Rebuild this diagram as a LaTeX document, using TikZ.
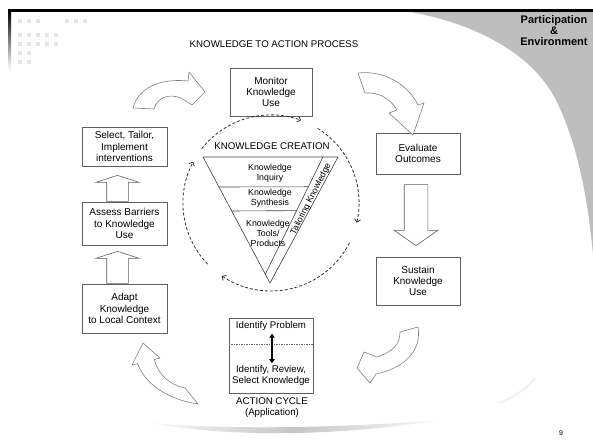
\documentclass[tikz,border=0pt]{standalone}
\usepackage{fontspec}
\setmainfont{Liberation Sans}
\usetikzlibrary{arrows.meta,shapes.arrows,calc}
\definecolor{cornergray}{RGB}{190,190,190}
\definecolor{boxline}{RGB}{95,95,95}
\definecolor{arrowline}{RGB}{128,128,128}
\definecolor{dotgray}{RGB}{228,228,228}

\begin{document}
\begin{tikzpicture}[x=1pt,y=1pt,
  stepbox/.style={draw=boxline, line width=0.7pt, fill=white, align=center,
    font=\fontsize{10}{11.2}\selectfont, inner sep=0pt},
  bend arrow/.style={draw=arrowline, line width=0.6pt, fill=white, line join=round},
  block arrow/.style={single arrow, draw=boxline, line width=0.6pt, fill=white,
    inner xsep=0pt, anchor=tail},
  cycle arc/.style={dash pattern=on 3pt off 2pt, line width=0.8pt, draw=black!80,
    -{Straight Barb[length=3pt,width=6pt]}},
  label text/.style={font=\fontsize{9.7}{11.2}\selectfont, align=center, inner sep=0pt},
  small text/.style={font=\fontsize{8.8}{10}\selectfont, align=center, inner sep=0pt},
  deco square/.style={fill=dotgray},
]
\useasboundingbox (0,0) rectangle (593,-446);
\fill[white] (0,0) rectangle (593,-446);

% slide frame: grey corner, top rule, fading left rule
\fill[cornergray] (405,-11) .. controls (470,-22) and (530,-50) .. (556,-100)
  .. controls (578,-145) and (588,-200) .. (593,-255) -- (593,-11) -- cycle;
\fill[black] (8,-9) rectangle (593,-12);
\shade[top color=black, bottom color=white] (8,-11) rectangle (11,-70);

% decorative squares
\foreach \x in {18,27,36,65,74,83} \fill[deco square] (\x,-19) rectangle ++(4,-4);
\foreach \y in {-33,-42} \foreach \x in {18,27,36,45,54} \fill[deco square] (\x,\y) rectangle ++(4,-4);
\foreach \y in {-51,-60} \foreach \x in {18,27} \fill[deco square] (\x,\y) rectangle ++(4,-4);

% headings
\node[label text] (title) at (274,-44) {KNOWLEDGE TO ACTION PROCESS};
\node[font=\fontsize{11}{11}\selectfont\bfseries, align=center, inner sep=0pt] (brand) at (554,-31)
  {Participation\\\&\\Environment};

% action cycle boxes
\node[stepbox, minimum width=82, minimum height=48] (monitor) at (271,-92) {Monitor\\Knowledge\\Use};
\node[stepbox, minimum width=84, minimum height=41] (evaluate) at (418,-153.5) {Evaluate\\Outcomes};
\node[stepbox, minimum width=84, minimum height=48] (sustain) at (418,-281) {Sustain\\Knowledge\\Use};
\node[stepbox, minimum width=85, minimum height=39] (select) at (124.5,-146.5) {Select, Tailor,\\Implement\\interventions};
\node[stepbox, minimum width=85, minimum height=43] (assess) at (124.5,-223.5) {Assess Barriers\\to Knowledge\\Use};
\node[stepbox, minimum width=85, minimum height=49] (adapt) at (124.5,-308.5) {Adapt\\Knowledge\\to Local Context};
\node[stepbox, minimum width=84, minimum height=75] (action) at (271,-355.5) {};

% inside the action box
\node[label text] (problem) at (271,-326) {Identify Problem};
\node[label text] (review) at (271,-375.5) {Identify, Review,\\Select Knowledge};
\draw[black!60, dash pattern=on 1.5pt off 1pt, line width=0.5pt]
  (action.west |- 0,-344) -- (action.east |- 0,-344);
\draw[line width=1.6pt, {Triangle[length=4pt,width=5.5pt]}-{Triangle[length=4pt,width=5.5pt]}]
  ($(problem.south)+(1,-3)$) -- ($(review.north)+(1,2)$);
\node[label text] (cyclename) at (272,-408) {ACTION CYCLE\\(Application)};

% straight block arrows between boxes
\node[block arrow, rotate=90, inner ysep=10.5pt, single arrow head extend=11pt,
  single arrow tip angle=144, minimum height=26pt] (up1) at ($(assess.north)+(-7,0)$) {};
\node[block arrow, rotate=90, inner ysep=10.5pt, single arrow head extend=11pt,
  single arrow tip angle=144, minimum height=32pt] (up2) at ($(adapt.north)+(-7,0)$) {};
\node[block arrow, rotate=-90, inner ysep=11.5pt, single arrow head extend=10pt,
  single arrow tip angle=110, minimum height=61pt] (down1) at ($(evaluate.south)+(-2,-10)$) {};

% curved block arrows around the cycle
\path[bend arrow] (133,-108) .. controls (138,-88) and (160,-78) .. (188,-81)
  -- (189,-72) -- (205,-92) -- (192,-105) -- (181,-98)
  .. controls (168,-93) and (157,-98) .. (154,-109) -- cycle;
\path[bend arrow] (358,-73) .. controls (385,-70) and (408,-85) .. (418,-105)
  -- (424,-103) -- (413,-135) -- (389,-113) -- (397,-110)
  .. controls (390,-98) and (378,-92) .. (365,-93) -- cycle;
\path[bend arrow] (418,-327) .. controls (422,-350) and (405,-368) .. (376,-374)
  -- (370,-383) -- (357,-368) -- (364,-352) -- (377,-357)
  .. controls (392,-352) and (400,-345) .. (400,-332) -- cycle;
\path[bend arrow] (143,-343) -- (160,-358) -- (154.4,-359.4)
  .. controls (158,-375) and (170,-385) .. (185,-388) -- (198,-404)
  .. controls (170,-400) and (145,-385) .. (137.6,-363.6) -- (132,-365) -- cycle;

% knowledge creation funnel
\coordinate (kc) at (271,-203);
\coordinate (tl) at (203,-157);
\coordinate (tr) at (338,-157);
\coordinate (apex) at (270,-283);
\coordinate (bandtop) at (323,-157);
\coordinate (bandend) at ($(tl)!0.93!(apex)$);
\draw[black!75, line width=0.6pt, line join=round] (tl) -- (tr) -- (apex) -- cycle;
\draw[black!75, line width=0.6pt] (bandtop) -- (bandend);
\draw[black!75, line width=0.6pt] ($(tl)!30/126!(apex)$) -- ($(bandtop)!30/118!(bandend)$);
\draw[black!75, line width=0.6pt] ($(tl)!54/126!(apex)$) -- ($(bandtop)!54/118!(bandend)$);
\node[label text] (kcreation) at (272,-146) {KNOWLEDGE CREATION};
\node[small text] (inquiry) at (270,-173) {Knowledge\\Inquiry};
\node[small text] (synthesis) at (270,-198.5) {Knowledge\\Synthesis};
\node[small text] (tools) at (268,-233) {Knowledge\\Tools/\\Products};
\node[small text, rotate=63] (tailoring) at (311,-199) {Tailoring Knowledge};

% dashed knowledge cycle
\draw[cycle arc] ([shift={(142:88)}]kc) arc[start angle=142, end angle=70, radius=88];
\draw[cycle arc] ([shift={(58:88)}]kc) arc[start angle=58, end angle=-13, radius=88];
\draw[cycle arc] ([shift={(-27:88)}]kc) arc[start angle=-27, end angle=-124, radius=88];
\draw[cycle arc] ([shift={(-136:88)}]kc) arc[start angle=-136, end angle=-208, radius=88];

% footer swoosh and page number
\shade[left color=gray!5, right color=gray!5, middle color=gray!45]
  (150,-423) .. controls (230,-438) and (340,-436) .. (440,-420)
  .. controls (340,-428) and (230,-430) .. cycle;
\draw[gray!12, line width=2pt] (500,-403) .. controls (515,-396) and (528,-388) .. (535,-378);
\node[font=\fontsize{7}{8}\selectfont, inner sep=0pt] (pageno) at (561,-433) {9};
\end{tikzpicture}
\end{document}
